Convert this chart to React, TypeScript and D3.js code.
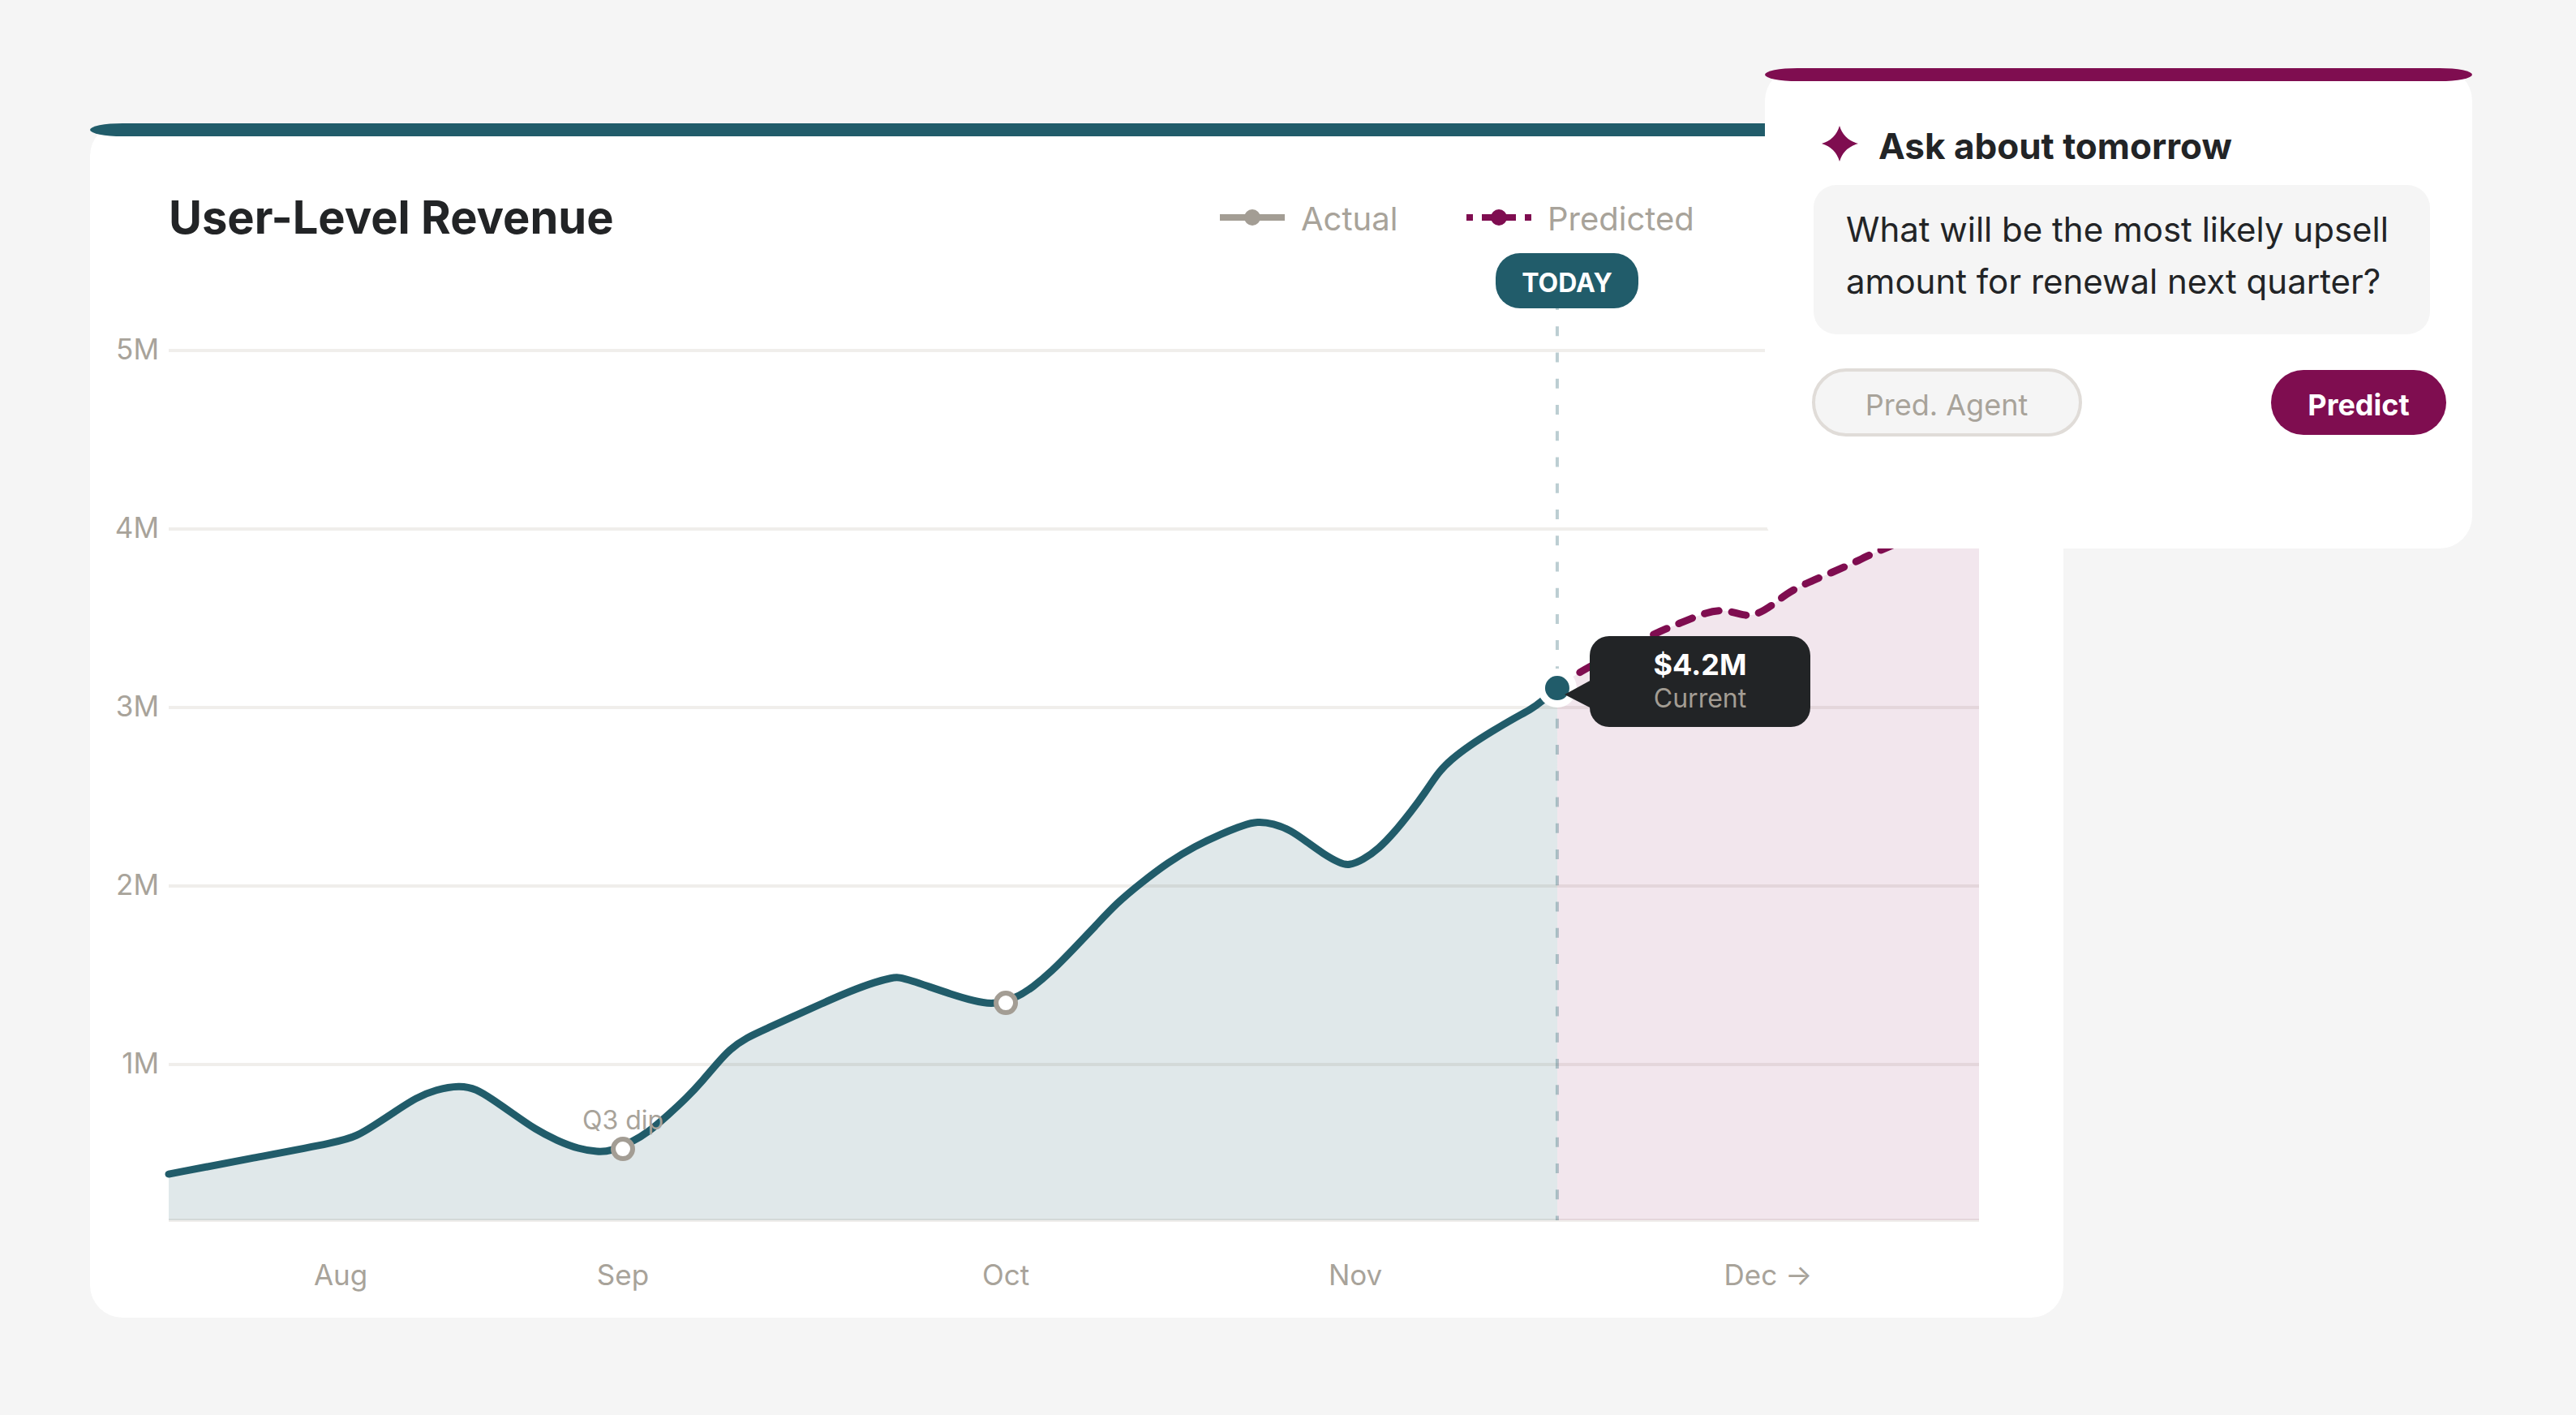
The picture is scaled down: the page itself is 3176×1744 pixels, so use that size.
import React from 'react';
import * as d3 from 'd3';

// positions along the time axis (0-100 of plot width) and revenue in $M
const actualPos: number[] = [0, 4.48, 9.5, 10.39, 11.29, 12.5, 13.66, 14.74, 16.08, 16.98, 17.88, 19.04, 20.25, 21.46, 22.63, 23.7, 24.42, 25.63, 26.52, 27.55, 28.63, 29.53, 30.24, 31.0, 31.9, 33.11, 34.59, 36.07, 37.59, 39.07, 39.96, 40.32, 41.08, 41.89, 43.19, 44.49, 45.56, 46.82, 47.72, 48.79, 49.96, 51.16, 52.37, 53.72, 55.2, 56.68, 58.2, 59.36, 60.13, 61.02, 61.96, 62.9, 63.75, 64.7, 65.19, 65.95, 66.85, 67.74, 68.64, 69.4, 70.12, 70.79, 71.91, 73.12, 74.33, 75.27, 75.81, 76.7];
const actualVal: number[] = [0.386, 0.473, 0.568, 0.6, 0.655, 0.736, 0.814, 0.859, 0.884, 0.864, 0.805, 0.723, 0.636, 0.573, 0.527, 0.51, 0.514, 0.568, 0.623, 0.714, 0.814, 0.914, 1.0, 1.086, 1.15, 1.205, 1.273, 1.341, 1.409, 1.464, 1.486, 1.49, 1.468, 1.44, 1.395, 1.355, 1.334, 1.373, 1.432, 1.523, 1.645, 1.773, 1.905, 2.018, 2.132, 2.223, 2.295, 2.341, 2.362, 2.35, 2.314, 2.245, 2.182, 2.127, 2.114, 2.145, 2.209, 2.305, 2.418, 2.523, 2.636, 2.705, 2.791, 2.868, 2.941, 2.991, 3.032, 3.109];
const predictedPos: number[] = [76.7, 77.51, 78.32, 82.12, 83.51, 84.95, 86.02, 87.0, 87.72, 88.53, 89.34, 90.32, 91.94, 93.15, 94.13, 94.94, 97.3, 100];
const predictedVal: number[] = [3.109, 3.168, 3.223, 3.418, 3.473, 3.535, 3.55, 3.512, 3.52, 3.568, 3.636, 3.691, 3.759, 3.814, 3.864, 3.895, 4.009, 4.145];

const yTicks: number[] = [1, 2, 3, 4, 5];
const monthLabels: string[] = ['Aug', 'Sep', 'Oct', 'Nov', 'Dec →'];
const monthPos: number[] = [9.5, 25.09, 46.24, 65.55, 88.35];
const markerPos: number[] = [25.09, 46.24];
const markerVal: number[] = [0.527, 1.345];
const todayPos = 76.7;
const todayVal = 3.109;
const baseVal = 0.127;

const TEAL = '#215c6a';
const PLUM = '#7f0d50';
const GREY = '#a8a39a';
const INK = '#222426';
const FONT = 'Inter, sans-serif';

const App: React.FC = () => {
  const x = d3.scaleLinear().domain([0, 100]).range([208, 2440]);
  const y = d3.scaleLinear().domain([0, 5]).range([1532, 432]);

  const actual = actualPos.map((p, i) => [p, actualVal[i]] as [number, number]);
  const predicted = predictedPos.map((p, i) => [p, predictedVal[i]] as [number, number]);

  const line = d3.line<[number, number]>()
    .x((d) => x(d[0]))
    .y((d) => y(d[1]))
    .curve(d3.curveBasis);
  const area = d3.area<[number, number]>()
    .x((d) => x(d[0]))
    .y0(y(baseVal))
    .y1((d) => y(d[1]))
    .curve(d3.curveBasis);

  const todayX = x(todayPos);
  const todayY = y(todayVal);

  return (
    <svg width={3176} height={1744} style={{ position: 'absolute', left: 0, top: 0, display: 'block' }} fontFamily={FONT}>
      <rect width={3176} height={1744} fill="#f5f5f5" />

      {/* main card */}
      <rect x={111} y={152} width={2433} height={1472} rx={40} fill="#fff" />
      <rect x={111} y={152} width={2433} height={16} rx={40} fill={TEAL} />
      <text x={208} y={288} fontSize={56} fontWeight={700} fill={INK}>User-Level Revenue</text>

      {/* legend */}
      <line x1={1504} x2={1584} y1={268} y2={268} stroke="#a39d94" strokeWidth={8} />
      <circle cx={1544} cy={268} r={10} fill="#a39d94" />
      <text x={1604} y={284} fontSize={40} fill={GREY}>Actual</text>
      <line x1={1808} x2={1888} y1={268} y2={268} stroke={PLUM} strokeWidth={8} strokeDasharray="8 11 42 11 8" />
      <circle cx={1848} cy={268} r={10} fill={PLUM} />
      <text x={1908} y={284} fontSize={40} fill={GREY}>Predicted</text>

      {/* grid */}
      {yTicks.map((t) => (
        <g key={t}>
          <line x1={x(0)} x2={x(100)} y1={y(t)} y2={y(t)} stroke="#f0eeeb" strokeWidth={4} />
          <text x={196} y={y(t) + 11} fontSize={35} fill={GREY} textAnchor="end">{t}M</text>
        </g>
      ))}
      <line x1={x(0)} x2={x(100)} y1={y(baseVal)} y2={y(baseVal)} stroke="#f0eeeb" strokeWidth={4} />
      {monthLabels.map((m, i) => (
        <text key={m} x={x(monthPos[i])} y={1584} fontSize={35} fill={GREY} textAnchor="middle">{m}</text>
      ))}

      {/* areas */}
      <path d={area(actual) || ''} fill={TEAL} fillOpacity={0.14} />
      <path d={area(predicted) || ''} fill={PLUM} fillOpacity={0.1} />

      {/* today marker line */}
      <line x1={todayX} x2={todayX} y1={370} y2={y(baseVal)} stroke={TEAL} strokeOpacity={0.3} strokeWidth={4} strokeDasharray="12 20.24" />

      {/* series */}
      <path d={line(predicted) || ''} fill="none" stroke={PLUM} strokeWidth={9} strokeLinecap="round" strokeDasharray="18 16" />
      <path d={line(actual) || ''} fill="none" stroke={TEAL} strokeWidth={9} strokeLinecap="round" />

      {markerPos.map((p, i) => (
        <circle key={p} cx={x(p)} cy={y(markerVal[i])} r={12} fill="#fff" stroke="#a39d94" strokeWidth={6} />
      ))}
      <text x={x(markerPos[0])} y={1392} fontSize={32} fill={GREY} textAnchor="middle">Q3 dip</text>

      {/* today badge */}
      <rect x={1844} y={312} width={176} height={68} rx={30} fill={TEAL} />
      <text x={1932} y={360} fontSize={32} fontWeight={700} fill="#fff" textAnchor="middle">TODAY</text>

      {/* current point + tooltip */}
      <circle cx={todayX} cy={todayY} r={24} fill="#fff" />
      <circle cx={todayX} cy={todayY} r={15} fill={TEAL} />
      <polygon points="1929,856 1962,838 1962,873" fill={INK} />
      <rect x={1960} y={784} width={272} height={112} rx={24} fill={INK} />
      <text x={2096} y={832} fontSize={36} fontWeight={700} fill="#fff" textAnchor="middle">$4.2M</text>
      <text x={2096} y={872} fontSize={32} fill="#a39d94" textAnchor="middle">Current</text>

      {/* ask panel */}
      <rect x={2176} y={84} width={872} height={592} rx={40} fill="#fff" />
      <rect x={2176} y={84} width={872} height={16} rx={40} fill={PLUM} />
      <path d="M2268,155 Q2273,172 2291,177 Q2273,182 2268,199 Q2263,182 2246,177 Q2263,172 2268,155 Z" fill={PLUM} />
      <text x={2316} y={196} fontSize={44} fontWeight={700} fill={INK}>Ask about tomorrow</text>
      <rect x={2236} y={228} width={760} height={184} rx={28} fill="#f5f5f5" />
      <text x={2276} y={298} fontSize={42} fill={INK}>What will be the most likely upsell</text>
      <text x={2276} y={362} fontSize={42} fill={INK}>amount for renewal next quarter?</text>
      <rect x={2236} y={456} width={329} height={80} rx={40} fill="#f5f5f5" stroke="#e0dcd8" strokeWidth={4} />
      <text x={2400} y={512} fontSize={36} fill={GREY} textAnchor="middle">Pred. Agent</text>
      <rect x={2800} y={456} width={216} height={80} rx={40} fill={PLUM} />
      <text x={2908} y={512} fontSize={36} fontWeight={700} fill="#fff" textAnchor="middle">Predict</text>
    </svg>
  );
};

export default App;
